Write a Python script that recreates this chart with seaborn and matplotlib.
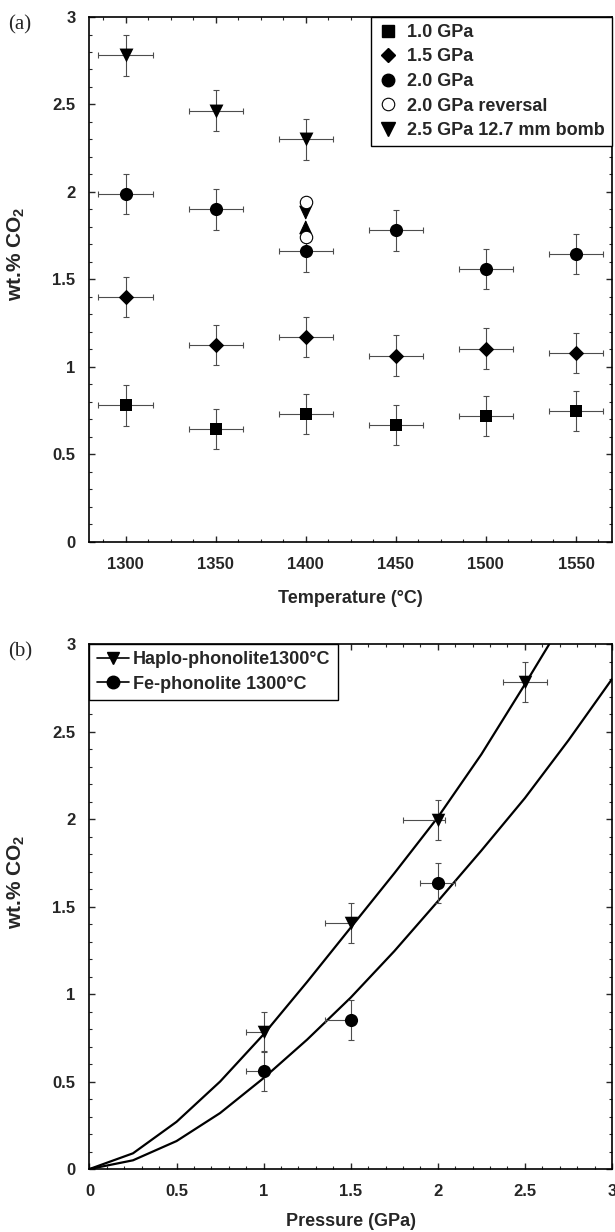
import matplotlib
matplotlib.use('Agg')
import matplotlib.pyplot as plt
from matplotlib.lines import Line2D
from matplotlib.ticker import MultipleLocator, FuncFormatter
import seaborn as sns

# ---------------- panel (a): CO2 vs temperature ----------------
temps = [1300, 1350, 1400, 1450, 1500, 1550]
co2_10gpa = [0.78, 0.645, 0.73, 0.67, 0.72, 0.75]
co2_15gpa = [1.40, 1.125, 1.17, 1.065, 1.105, 1.08]
co2_20gpa = [1.99, 1.90, 1.66, 1.78, 1.56, 1.645]
temps_25gpa = [1300, 1350, 1400]
co2_25gpa = [2.78, 2.465, 2.30]
rev_temps = [1400, 1400]
rev_co2 = [1.94, 1.745]
rev_meet = 1.84
temp_err = 15
co2_err = 0.115

# ---------------- panel (b): CO2 vs pressure ----------------
p_haplo = [1.0, 1.5, 2.0, 2.5]
co2_haplo = [0.785, 1.405, 1.995, 2.785]
haplo_perr_lo = [0.10, 0.15, 0.20, 0.125]
haplo_perr_hi = [0.0, 0.0, 0.04, 0.125]
p_fe = [1.0, 1.5, 2.0]
co2_fe = [0.562, 0.85, 1.636]
fe_perr_lo = [0.10, 0.15, 0.10]
fe_perr_hi = [0.0, 0.0, 0.10]

# fitted curves
haplo_curve_p = [0, 0.25, 0.5, 0.75, 1.0, 1.25, 1.5, 1.75, 2.0, 2.25, 2.5, 2.64]
haplo_curve_co2 = [0, 0.09, 0.27, 0.50, 0.77, 1.07, 1.38, 1.69, 2.01, 2.37, 2.77, 3.0]
fe_curve_p = [0, 0.25, 0.5, 0.75, 1.0, 1.25, 1.5, 1.75, 2.0, 2.25, 2.5, 2.75, 3.0]
fe_curve_co2 = [0, 0.05, 0.16, 0.32, 0.52, 0.74, 0.98, 1.245, 1.53, 1.82, 2.12, 2.45, 2.80]

sns.set_style('ticks')
plt.rcParams['font.family'] = ['Liberation Sans', 'DejaVu Sans']
plt.rcParams['font.weight'] = 'bold'
plt.rcParams['mathtext.fontset'] = 'custom'
plt.rcParams['mathtext.rm'] = 'Liberation Sans:bold'
plt.rcParams['mathtext.bf'] = 'Liberation Sans:bold'

fig = plt.figure(figsize=(6.15, 12.32), dpi=100)
ax1 = fig.add_axes([0.1455, 0.5601, 0.8496, 0.4261])
ax2 = fig.add_axes([0.1455, 0.0511, 0.8496, 0.4261])

ebar = dict(fmt='none', ecolor='0.3', elinewidth=0.8, capsize=2, capthick=0.8, zorder=2)


def style_axes(ax, xmin, xmax, xmaj, xmin_step):
    ax.set_xlim(xmin, xmax)
    ax.set_ylim(0, 3)
    ax.xaxis.set_major_locator(MultipleLocator(xmaj))
    ax.xaxis.set_minor_locator(MultipleLocator(xmin_step))
    ax.yaxis.set_major_locator(MultipleLocator(0.5))
    ax.yaxis.set_minor_locator(MultipleLocator(0.1))
    ax.yaxis.set_major_formatter(FuncFormatter(lambda v, _: f'{v:g}'))
    ax.xaxis.set_major_formatter(FuncFormatter(lambda v, _: f'{v:g}'))
    ax.tick_params(which='both', direction='in', top=True, right=True)
    ax.tick_params(which='major', length=4.5, width=1.0, labelsize=12)
    ax.tick_params(axis='x', which='major', pad=11)
    ax.tick_params(axis='y', which='major', pad=10)
    ax.tick_params(which='minor', length=2.5, width=0.8)
    for s in ax.spines.values():
        s.set_linewidth(1.2)
        s.set_color('black')
    ax.set_ylabel(r'wt.% CO$_\mathbf{2}$', fontsize=15, fontweight='bold')
    ax.yaxis.set_label_coords(-0.12, 0.548)


# ---- (a) ----
ax = ax1
ax.errorbar(temps, co2_10gpa, xerr=temp_err, yerr=co2_err, **ebar)
ax.errorbar(temps, co2_15gpa, xerr=temp_err, yerr=co2_err, **ebar)
ax.errorbar(temps, co2_20gpa, xerr=temp_err, yerr=co2_err, **ebar)
ax.errorbar(temps_25gpa, co2_25gpa, xerr=temp_err, yerr=co2_err, **ebar)

sns.scatterplot(x=temps, y=co2_10gpa, marker='s', s=85, color='black', linewidth=0, ax=ax, zorder=3)
sns.scatterplot(x=temps, y=co2_15gpa, marker='D', s=62, color='black', linewidth=0, ax=ax, zorder=3)
sns.scatterplot(x=temps, y=co2_20gpa, marker='o', s=90, color='black', linewidth=0, ax=ax, zorder=3)
sns.scatterplot(x=temps_25gpa, y=co2_25gpa, marker='v', s=100, color='black', linewidth=0, ax=ax, zorder=3)
sns.scatterplot(x=rev_temps, y=rev_co2, marker='o', s=80, facecolor='white', edgecolor='black',
                linewidth=0.8, ax=ax, zorder=4)
# arrows from the two reversal runs converging on the equilibrium value
for t, c in zip(rev_temps, rev_co2):
    ax.annotate('', xy=(t, rev_meet), xytext=(t, c),
                arrowprops=dict(arrowstyle='-|>,head_length=0.9,head_width=0.42',
                                color='black', lw=0.8, shrinkA=3, shrinkB=0), zorder=3)

style_axes(ax, 1280, 1570, 50, 12.5)
ax.set_xlabel('Temperature (°C)', fontsize=13, fontweight='bold')
ax.xaxis.set_label_coords(0.5, -0.092)

h_a = [
    Line2D([], [], ls='none', marker='s', ms=9, color='black'),
    Line2D([], [], ls='none', marker='D', ms=7.5, color='black'),
    Line2D([], [], ls='none', marker='o', ms=9, color='black'),
    Line2D([], [], ls='none', marker='o', ms=9, mfc='white', mec='black', mew=0.8),
    Line2D([], [], ls='none', marker='v', ms=9.5, color='black'),
]
lab_a = ['1.0 GPa', '1.5 GPa', '2.0 GPa', '2.0 GPa reversal', '2.5 GPa 12.7 mm bomb']
leg = ax.legend(h_a, lab_a, loc='upper right', borderaxespad=0, fancybox=False, framealpha=1,
                edgecolor='black', fontsize=13, handlelength=1.2, handletextpad=0.45,
                labelspacing=0.42, borderpad=0.38)
leg.get_frame().set_linewidth(1.0)

# ---- (b) ----
ax = ax2
sns.lineplot(x=haplo_curve_p, y=haplo_curve_co2, color='black', lw=1.6, sort=False,
             estimator=None, ax=ax, zorder=2)
sns.lineplot(x=fe_curve_p, y=fe_curve_co2, color='black', lw=1.6, sort=False,
             estimator=None, ax=ax, zorder=2)
ax.errorbar(p_haplo, co2_haplo, xerr=[haplo_perr_lo, haplo_perr_hi], yerr=co2_err, **ebar)
ax.errorbar(p_fe, co2_fe, xerr=[fe_perr_lo, fe_perr_hi], yerr=co2_err, **ebar)
sns.scatterplot(x=p_haplo, y=co2_haplo, marker='v', s=95, color='black', linewidth=0, ax=ax, zorder=3)
sns.scatterplot(x=p_fe, y=co2_fe, marker='o', s=90, color='black', linewidth=0, ax=ax, zorder=3)

style_axes(ax, 0, 3, 0.5, 0.1)
ax.set_xlabel('Pressure (GPa)', fontsize=13, fontweight='bold')
ax.xaxis.set_label_coords(0.5, -0.083)

h_b = [
    Line2D([], [], marker='v', ms=9, color='black', lw=1.2),
    Line2D([], [], marker='o', ms=9, color='black', lw=1.2),
]
lab_b = ['Haplo-phonolite1300°C', 'Fe-phonolite 1300°C']
leg = ax.legend(h_b, lab_b, loc='upper left', borderaxespad=0, fancybox=False, framealpha=1,
                edgecolor='black', fontsize=13, handlelength=1.8, handletextpad=0.2,
                labelspacing=0.4, borderpad=0.4)
leg.get_frame().set_linewidth(1.0)

fig.text(8 / 615, 1 - 25 / 1232, '(a)', family=['Liberation Serif', 'DejaVu Serif'],
         fontweight='normal', fontsize=15, ha='left', va='center')
fig.text(8 / 615, 1 - 652 / 1232, '(b)', family=['Liberation Serif', 'DejaVu Serif'],
         fontweight='normal', fontsize=15, ha='left', va='center')

fig.savefig('out.png', dpi=100)
